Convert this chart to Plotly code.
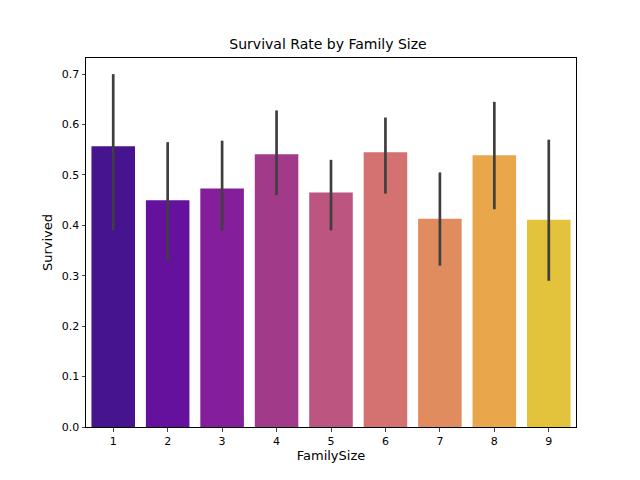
import plotly.graph_objects as go

family_size = ["1", "2", "3", "4", "5", "6", "7", "8", "9"]
survived = [0.557, 0.450, 0.473, 0.541, 0.465, 0.545, 0.413, 0.539, 0.411]
ci_low = [0.390, 0.330, 0.390, 0.460, 0.390, 0.463, 0.320, 0.432, 0.290]
ci_high = [0.700, 0.565, 0.568, 0.628, 0.530, 0.614, 0.505, 0.645, 0.570]
colors = ["#47148f", "#66119d", "#851e9a", "#a23a8a", "#bc5580",
          "#d47171", "#e18c5f", "#e9a64b", "#e3c23c"]

fig = go.Figure()
fig.add_trace(go.Bar(x=family_size, y=survived, marker_color=colors,
                     marker_line_width=0, width=0.8))
# intervalles de confiance
for i, fs in enumerate(family_size):
    fig.add_trace(go.Scatter(x=[fs, fs], y=[ci_low[i], ci_high[i]], mode="lines",
                             line=dict(color="#3f3f3f", width=2.7),
                             showlegend=False, hoverinfo="skip"))

fig.update_layout(
    width=640, height=480, showlegend=False,
    paper_bgcolor="white", plot_bgcolor="white",
    margin=dict(l=78, r=72, t=50, b=61),
    font=dict(family="DejaVu Sans", size=11, color="black"),
    title=dict(text="Survival Rate by Family Size", x=0.5, xanchor="center",
               y=0.925, yanchor="middle", font=dict(size=14)),
    bargap=0.2,
)
fig.update_xaxes(title=dict(text="FamilySize", standoff=4), range=[-0.5, 8.5],
                 showline=True, linecolor="black", mirror=True,
                 ticks="outside", ticklen=3.5, showgrid=False)
fig.update_yaxes(title=dict(text="Survived", standoff=6), range=[0, 0.732],
                 tickvals=[0, 0.1, 0.2, 0.3, 0.4, 0.5, 0.6, 0.7], tickformat=".1f",
                 showline=True, linecolor="black", mirror=True,
                 ticks="outside", ticklen=3.5, showgrid=False, zeroline=False)

fig.write_html("out.html")
